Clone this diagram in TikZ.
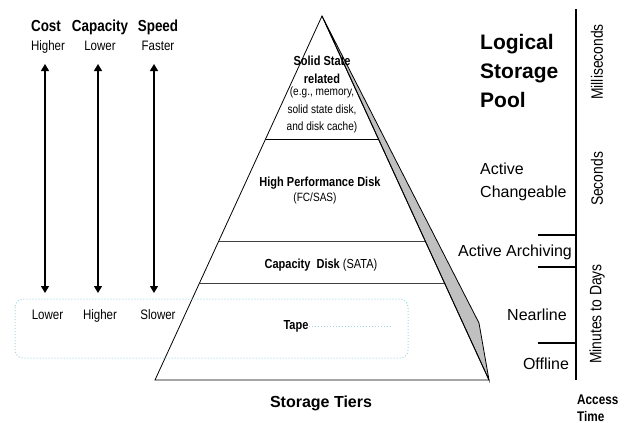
\documentclass[tikz,border=0pt]{standalone}
\usepackage{fontspec}
\setmainfont{Liberation Sans}
\newfontfamily\narrowsans[FakeStretch=0.84]{Liberation Sans}
\usepackage{tikz}
\usetikzlibrary{positioning,arrows.meta,calc}
\usepackage{xcolor}
\definecolor{tapeblue}{RGB}{165,215,225}
\definecolor{sidegray}{RGB}{192,192,192}

\begin{document}
\begin{tikzpicture}[
                x=1pt, y=-1pt,
                head/.style={font=\narrowsans\bfseries\fontsize{16}{18}\selectfont, inner sep=0pt, anchor=base},
                val/.style={font=\narrowsans\fontsize{13.7}{16}\selectfont, inner sep=0pt, anchor=base},
                tier/.style={font=\narrowsans\bfseries\fontsize{13.1}{18}\selectfont, inner sep=0pt, align=center},
                note/.style={font=\narrowsans\fontsize{12}{17.5}\selectfont, inner sep=0pt, align=center},
                label/.style={font=\fontsize{16}{23}\selectfont, inner sep=0pt, align=left},
                span/.style={font=\narrowsans\fontsize{16.5}{18}\selectfont, inner sep=0pt, rotate=90},
                dbl/.style={{Triangle[length=7pt,width=8pt]}-{Triangle[length=7pt,width=8pt]}, line width=1.2pt}
            ]
                \useasboundingbox (0,0) rectangle (627,423);

                % Left: what changes going up or down
                \node[head] (cost) at (46,31.7) {Cost};
                \node[head] (capacity) at (100,31.7) {Capacity};
                \node[head] (speed) at (158,31.7) {Speed};
                \node[val] (costhi) at (48,50.5) {Higher};
                \node[val] (caplo) at (100,50.5) {Lower};
                \node[val] (speedhi) at (158,50.5) {Faster};
                \node[val] (costlo) at (47.5,319) {Lower};
                \node[val] (caphi) at (100,319) {Higher};
                \node[val] (speedlo) at (158,319) {Slower};

                \coordinate (costup) at (45,64);
                \coordinate (costdn) at (45,293);
                \coordinate (capup) at (98,64);
                \coordinate (capdn) at (98,293);
                \coordinate (speedup) at (154,64);
                \coordinate (speeddn) at (154,293);
                \draw[dbl] (costup) -- (costdn);
                \draw[dbl] (capup) -- (capdn);
                \draw[dbl] (speedup) -- (speeddn);

                % Pyramid with its grey side
                \coordinate (apex) at (322,16);
                \coordinate (bl) at (155,380);
                \coordinate (br) at (489,380);
                \coordinate (bend) at (479,323);
                \filldraw[fill=sidegray, line width=0.8pt] (apex) -- (bend) -- (br) -- cycle;
                \draw[line width=0.8pt] (apex) -- (bl) -- (br) -- cycle;
                \draw[line width=0.8pt] ($(apex)!0.338!(bl)$) -- ($(apex)!0.338!(br)$);
                \draw[line width=0.8pt, black!75] ($(apex)!0.618!(bl)$) -- ($(apex)!0.618!(br)$);
                \draw[line width=0.8pt, black!75] ($(apex)!0.7335!(bl)$) -- ($(apex)!0.7335!(br)$);

                % Tiers
                \node[tier] (ssd) at (322,70) {Solid State\\related};
                \node[note] (ssdnote) at (322,110) {(e.g., memory,\\solid state disk,\\and disk cache)};
                \node[tier] (hpd) at (320,183) {High Performance Disk};
                \node[note] (hpdnote) at (315,198) {(FC/SAS)};
                \node[tier] (cap) at (321,265) {Capacity\ \ Disk \mdseries(SATA)};
                \node[tier] (tape) at (296,326) {Tape};
                \coordinate (tapeend) at (391,326);
                \draw[tapeblue, dotted, line width=1pt] (tape.east) -- (tapeend);
                \draw[tapeblue, dotted, line width=1pt, rounded corners=8pt] (15,299) rectangle (408,358);

                \node[font=\bfseries\fontsize{16}{19}\selectfont, inner sep=0pt] (tiers) at (321,403) {Storage Tiers};

                % Right: storage pool and access time
                \node[font=\bfseries\fontsize{21}{29}\selectfont, inner sep=0pt, align=left, anchor=west] (pool) at (480,71) {Logical\\Storage\\Pool};
                \node[label, anchor=west] (changeable) at (480,181.5) {Active\\Changeable};
                \node[label] (archiving) at (515,252) {Active Archiving};
                \node[label] (nearline) at (537,315) {Nearline};
                \node[label] (offline) at (546,364) {Offline};

                \coordinate (ttop) at (576,9);
                \coordinate (tbot) at (576,380);
                \draw[line width=1.2pt] (ttop) -- (tbot);
                \coordinate (t1) at (576,235);
                \coordinate (t2) at (576,267);
                \coordinate (t3) at (576,343);
                \draw[line width=1.2pt] (t1) -- ++(-38,0);
                \draw[line width=1.2pt] (t2) -- ++(-38,0);
                \draw[line width=1.2pt] (t3) -- ++(-38,0);

                \node[span] (ms) at (597,62) {Milliseconds};
                \node[span] (sec) at (597,179) {Seconds};
                \node[span] (days) at (597,314) {Minutes to Days};
                \node[font=\narrowsans\bfseries\fontsize{14}{17}\selectfont, inner sep=0pt, align=left, anchor=west] (access) at (577,408) {Access\\Time};
            \end{tikzpicture}
\end{document}
